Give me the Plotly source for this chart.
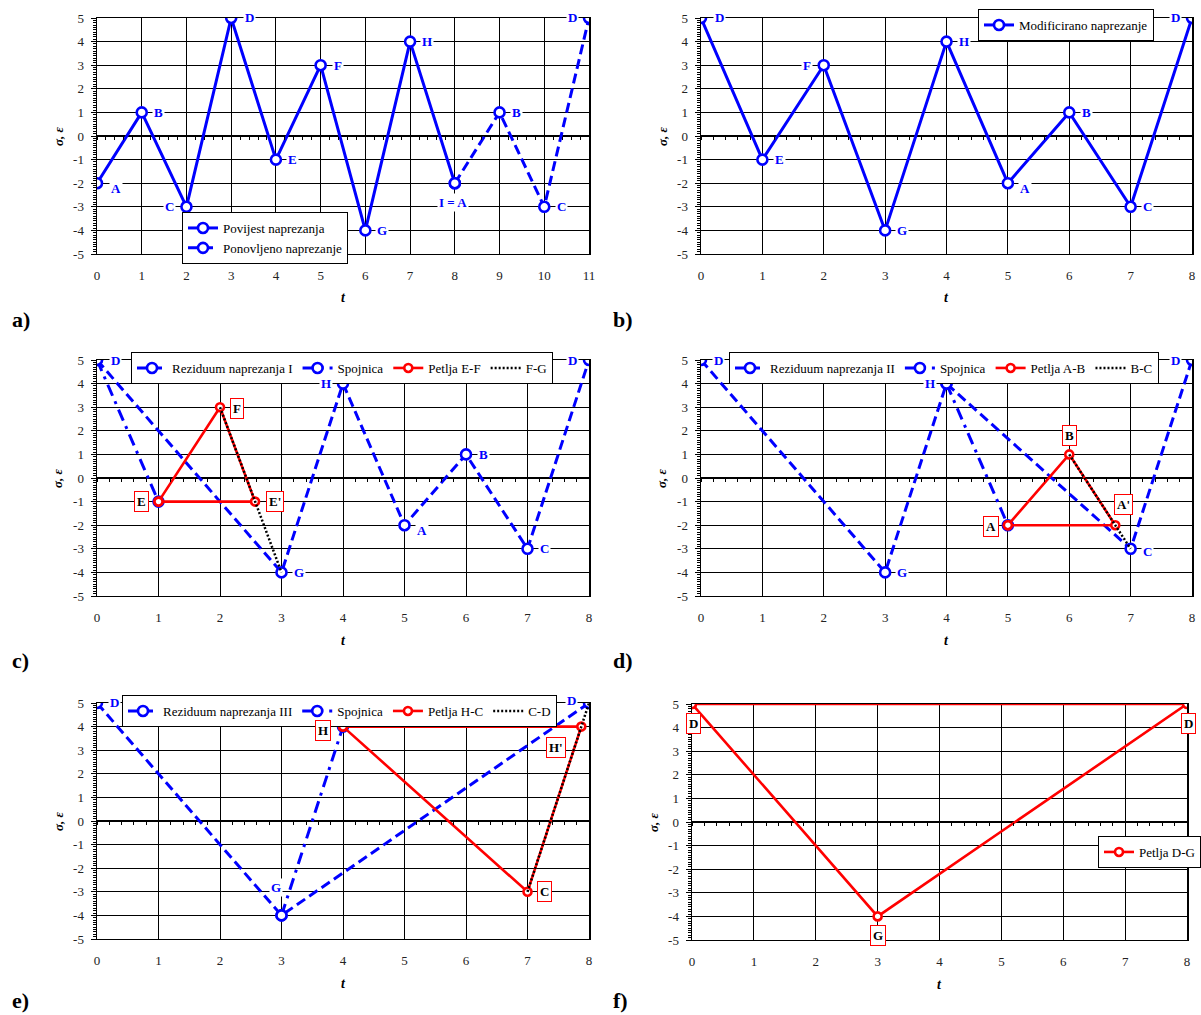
import plotly.graph_objects as go

# ---------------- data ----------------
# panel a
a_hist_t = [0, 1, 2, 3, 4, 5, 6, 7, 8]
a_hist_s = [-2, 1, -3, 5, -1, 3, -4, 4, -2]
a_rep_t = [8, 9, 10, 11]
a_rep_s = [-2, 1, -3, 5]
a_lab_t = [0, 1, 2, 3, 4, 5, 6, 7, 8, 9, 10, 11]
a_lab_s = [-2, 1, -3, 5, -1, 3, -4, 4, -2, 1, -3, 5]
a_lab_text = ["A", "B", "C", "D", "E", "F", "G", "H", "I = A", "B", "C", "D"]

# panel b
b_t = [0, 1, 2, 3, 4, 5, 6, 7, 8]
b_s = [5, -1, 3, -4, 4, -2, 1, -3, 5]
b_text = ["D", "E", "F", "G", "H", "A", "B", "C", "D"]

# panel c
c_res_t = [0, 3, 4, 5, 6, 7, 8]
c_res_s = [5, -4, 4, -2, 1, -3, 5]
c_res_text = ["D", "G", "H", "A", "B", "C", "D"]
c_spoj_t = [0, 1]
c_spoj_s = [5, -1]
c_loop_t = [1, 2, 2.57, 1]
c_loop_s = [-1, 3, -1, -1]
c_loop_text = ["E", "F", "E'"]
c_fg_t = [2, 3]
c_fg_s = [3, -4]

# panel d
d_res_t = [0, 3, 4, 7, 8]
d_res_s = [5, -4, 4, -3, 5]
d_res_text = ["D", "G", "H", "C", "D"]
d_spoj_t = [4, 5]
d_spoj_s = [4, -2]
d_loop_t = [5, 6, 6.75, 5]
d_loop_s = [-2, 1, -2, -2]
d_loop_text = ["A", "B", "A'"]
d_bc_t = [6, 7]
d_bc_s = [1, -3]

# panel e
e_res_t = [0, 3, 8]
e_res_s = [5, -4, 5]
e_res_text = ["D", "G", "D"]
e_spoj_t = [3, 4]
e_spoj_s = [-4, 4]
e_loop_t = [4, 7, 7.875, 4]
e_loop_s = [4, -3, 4, 4]
e_loop_text = ["H", "C", "H'"]
e_cd_t = [7, 8]
e_cd_s = [-3, 5]

# panel f
f_t = [0, 3, 8, 0]
f_s = [5, -4, 5, 5]
f_text = ["D", "G", "D"]

y_ticks = [-5, -4, -3, -2, -1, 0, 1, 2, 3, 4, 5]
y_ticktext = [str(v) for v in y_ticks]

# ---------------- style ----------------
W, H = 1201, 1015
BLUE = "#0000FF"
RED = "#FF0000"
FONT = "Liberation Serif, Times New Roman, serif"
DASH = "10px,5px"
DASHDOT = "12px,6px,3px,6px"
DOT = "2px,2px"


def fx(px):
    return px / W


def fy(py):
    return 1 - py / H


# pixel boxes of plot areas: (left, right, top, bottom, tmax)
boxes = {
    1: (97, 589, 18, 254, 11),
    2: (701, 1192, 18, 254, 8),
    3: (97, 589, 360, 596, 8),
    4: (701, 1192, 360, 596, 8),
    5: (97, 589, 703, 939, 8),
    6: (692, 1187, 704, 940, 8),
}

fig = go.Figure()
annotations = []

for n, (x0, x1, y0, y1, tmax) in boxes.items():
    xs = "" if n == 1 else str(n)
    x_ticks = list(range(0, tmax + 1))
    fig.layout[f"xaxis{xs}"] = dict(
        domain=[fx(x0), fx(x1)], anchor=f"y{xs}", range=[0, tmax], automargin=False,
        tickvals=x_ticks, ticktext=[str(v) for v in x_ticks],
        showgrid=True, gridcolor="black", gridwidth=1,
        showline=True, linecolor="black", linewidth=1, mirror=True,
        ticks="", zeroline=False, ticklabelstandoff=9,
        tickfont=dict(family=FONT, size=13, color="#222"), fixedrange=True,
    )
    fig.layout[f"yaxis{xs}"] = dict(
        domain=[fy(y1), fy(y0)], anchor=f"x{xs}", range=[-5, 5], automargin=False,
        tickvals=y_ticks, ticktext=y_ticktext,
        showgrid=True, gridcolor="black", gridwidth=1,
        zeroline=True, zerolinecolor="black", zerolinewidth=1.5,
        showline=True, linecolor="black", linewidth=1.5, mirror=True,
        ticks="outside", ticklen=5, tickcolor="black", tickwidth=1,
        minor=dict(dtick=0.1, tick0=0, ticks="outside", ticklen=3,
                   tickcolor="black", showgrid=False),
        ticklabelstandoff=4,
        tickfont=dict(family=FONT, size=13, color="#222"), fixedrange=True,
    )
    # overlay axis drawing the small tick marks along the zero line
    ov = n + 6
    fig.layout[f"xaxis{ov}"] = dict(
        overlaying=f"x{xs}", anchor="free", position=fy((y0 + y1) / 2),
        range=[0, tmax], dtick=0.2, tick0=0, showgrid=False, zeroline=False,
        showline=False, showticklabels=False, ticks="outside", ticklen=3,
        tickcolor="black", fixedrange=True, automargin=False,
    )
    fig.add_trace(go.Scatter(x=[0], y=[0], xaxis=f"x{ov}", yaxis=f"y{xs}",
                             mode="markers", marker=dict(opacity=0),
                             showlegend=False, hoverinfo="skip"))
    # axis titles
    annotations.append(dict(xref="paper", yref="paper", x=fx((x0 + x1) / 2), y=fy(y1 + 44),
                            xanchor="center", yanchor="middle",
                            text="<b><i>t</i></b>", showarrow=False,
                            font=dict(family=FONT, size=14, color="black")))
    annotations.append(dict(xref="paper", yref="paper", x=fx(x0 - 39), y=fy((y0 + y1) / 2),
                            xanchor="center", yanchor="middle",
                            text="<b><i>σ, ε</i></b>", showarrow=False, textangle=-90,
                            font=dict(family=FONT, size=13, color="black")))

# panel letters
for txt, px, py in [("a)", 10, 319), ("b)", 611, 319), ("c)", 10, 660),
                    ("d)", 611, 660), ("e)", 10, 1000), ("f)", 611, 1000)]:
    annotations.append(dict(xref="paper", yref="paper", x=fx(px), y=fy(py),
                            xanchor="left", yanchor="middle",
                            text=f"<b>{txt}</b>", showarrow=False,
                            font=dict(family=FONT, size=22, color="black")))


def axes(n):
    s = "" if n == 1 else str(n)
    return f"x{s}", f"y{s}"


def series(n, t, s, name, color, dash, legend, width=3, msize=10, mode="lines+markers",
           show=True):
    xa, ya = axes(n)
    fig.add_trace(go.Scatter(
        x=t, y=s, name=name, xaxis=xa, yaxis=ya, mode=mode, legend=legend,
        showlegend=show, hoverinfo="skip",
        line=dict(color=color, width=width, dash=dash),
        marker=dict(symbol="circle", size=msize, color="white",
                    line=dict(color=color, width=2.6)),
    ))


def label(n, t, s, text, dx, dy, boxed=False):
    xa, ya = axes(n)
    d = dict(xref=xa, yref=ya, x=t, y=s, text=f"<b>{text}</b>", showarrow=False,
             xanchor="center", yanchor="middle",
             xshift=dx, yshift=-dy, bgcolor="white")
    if boxed:
        d.update(font=dict(family=FONT, size=13, color="black"), bordercolor=RED,
                 borderwidth=1, borderpad=2)
    else:
        d.update(font=dict(family=FONT, size=13, color=BLUE), borderpad=1)
    annotations.append(d)


# ---- panel a ----
series(1, a_hist_t, a_hist_s, "Povijest naprezanja", BLUE, "solid", "legend")
series(1, a_rep_t, a_rep_s, "Ponovljeno naprezanje", BLUE, DASH, "legend")
a_off = [(19, 5), (17, 0), (-17, 0), (18, 0), (17, 0), (17, 0), (17, 0), (17, 0),
         (-2, 19), (17, 0), (17, 0), (-17, 0)]
for t, s, txt, (dx, dy) in zip(a_lab_t, a_lab_s, a_lab_text, a_off):
    label(1, t, s, txt, dx, dy)

# ---- panel b ----
series(2, b_t, b_s, "Modificirano naprezanje", BLUE, "solid", "legend2")
b_off = [(18, 0), (17, 0), (-17, 0), (17, 0), (17, 0), (17, 5), (17, 0), (17, 0), (-17, 0)]
for t, s, txt, (dx, dy) in zip(b_t, b_s, b_text, b_off):
    label(2, t, s, txt, dx, dy)

# ---- panel c ----
series(3, c_res_t, c_res_s, "Reziduum naprezanja I", BLUE, DASH, "legend3")
series(3, c_spoj_t, c_spoj_s, "Spojnica", BLUE, DASHDOT, "legend3")
series(3, c_loop_t, c_loop_s, "Petlja E-F", RED, "solid", "legend3", width=2.6, msize=8)
series(3, c_fg_t, c_fg_s, "F-G", "black", DOT, "legend3", width=2.5, mode="lines")
c_off = [(18, 0), (17, 0), (-17, 0), (17, 5), (17, 0), (17, 0), (-17, 0)]
for t, s, txt, (dx, dy) in zip(c_res_t, c_res_s, c_res_text, c_off):
    label(3, t, s, txt, dx, dy)
for t, s, txt, (dx, dy) in zip(c_loop_t, c_loop_s, c_loop_text, [(-17, 0), (17, 1), (20, 0)]):
    label(3, t, s, txt, dx, dy, boxed=True)

# ---- panel d ----
series(4, d_res_t, d_res_s, "Reziduum naprezanja II", BLUE, DASH, "legend4")
series(4, d_spoj_t, d_spoj_s, "Spojnica", BLUE, DASHDOT, "legend4")
series(4, d_loop_t, d_loop_s, "Petlja A-B", RED, "solid", "legend4", width=2.6, msize=8)
series(4, d_bc_t, d_bc_s, "B-C", "black", DOT, "legend4", width=2.5, mode="lines")
d_off = [(17, 0), (17, 0), (-17, 0), (17, 3), (-17, 0)]
for t, s, txt, (dx, dy) in zip(d_res_t, d_res_s, d_res_text, d_off):
    label(4, t, s, txt, dx, dy)
for t, s, txt, (dx, dy) in zip(d_loop_t, d_loop_s, d_loop_text, [(-17, 1), (0, -19), (8, -21)]):
    label(4, t, s, txt, dx, dy, boxed=True)

# ---- panel e ----
series(5, e_res_t, e_res_s, "Reziduum naprezanja III", BLUE, DASH, "legend5")
series(5, e_spoj_t, e_spoj_s, "Spojnica", BLUE, DASHDOT, "legend5")
series(5, e_loop_t, e_loop_s, "Petlja H-C", RED, "solid", "legend5", width=2.6, msize=8)
series(5, e_cd_t, e_cd_s, "C-D", "black", DOT, "legend5", width=2.5, mode="lines")
e_off = [(17, -1), (-6, -28), (-18, -3)]
for t, s, txt, (dx, dy) in zip(e_res_t, e_res_s, e_res_text, e_off):
    label(5, t, s, txt, dx, dy)
for t, s, txt, (dx, dy) in zip(e_loop_t, e_loop_s, e_loop_text, [(-20, 4), (17, 0), (-25, 21)]):
    label(5, t, s, txt, dx, dy, boxed=True)

# ---- panel f ----
series(6, f_t, f_s, "Petlja D-G", RED, "solid", "legend6", width=2.6, msize=8)
for t, s, txt, (dx, dy) in zip(f_t, f_s, f_text, [(1, 19), (0, 19), (1, 19)]):
    label(6, t, s, txt, dx, dy, boxed=True)

legend_common = dict(bgcolor="white", bordercolor="black", borderwidth=1,
                     font=dict(family=FONT, size=13, color="black"),
                     xanchor="left", yanchor="top", itemwidth=30, tracegroupgap=0,
                     itemclick=False, itemdoubleclick=False)

fig.update_layout(
    width=W, height=H, margin=dict(l=0, r=0, t=0, b=0, autoexpand=False),
    paper_bgcolor="white", plot_bgcolor="white",
    font=dict(family=FONT, size=13, color="black"),
    annotations=annotations,
    legend=dict(x=fx(182), y=fy(212), orientation="v", **legend_common),
    legend2=dict(x=fx(978), y=fy(9), orientation="v", **legend_common),
    legend3=dict(x=fx(131), y=fy(352), orientation="h", **legend_common),
    legend4=dict(x=fx(729), y=fy(352), orientation="h", **legend_common),
    legend5=dict(x=fx(122), y=fy(695), orientation="h", **legend_common),
    legend6=dict(x=fx(1098), y=fy(836), orientation="v", **legend_common),
)

# the page's default 8px body margin would push the full-size figure out of the window
fig.write_html("out.html",
               config={"displayModeBar": False, "staticPlot": True},
               post_script="document.body.style.margin='0px';"
                           "document.body.style.overflow='hidden';")
